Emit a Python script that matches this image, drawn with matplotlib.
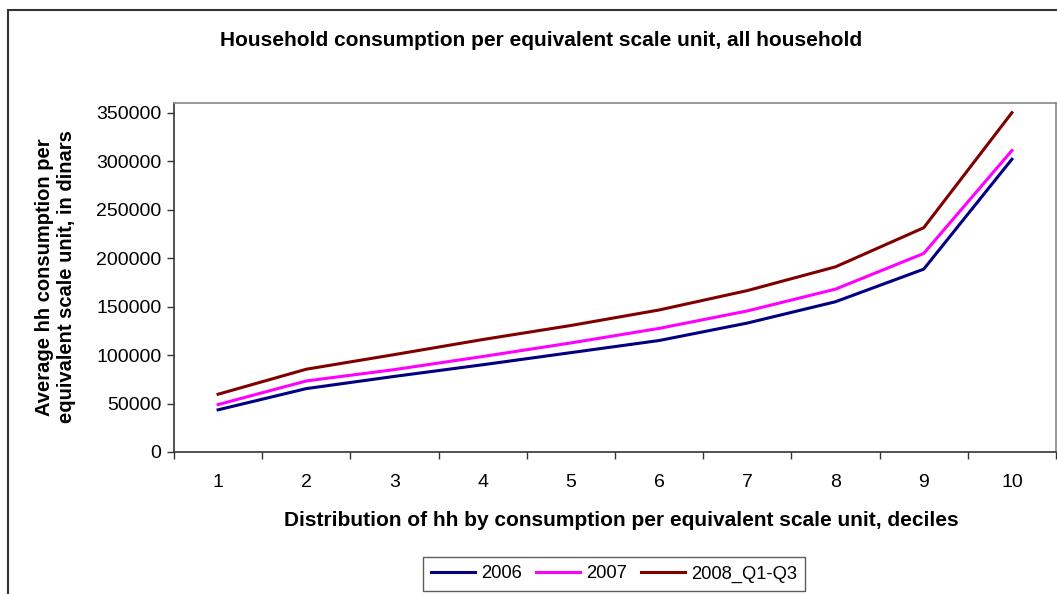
import numpy as np
import matplotlib
matplotlib.use("Agg")
import matplotlib.pyplot as plt
from matplotlib.patches import Rectangle


# values (dinars)
deciles = [1, 2, 3, 4, 5, 6, 7, 8, 9, 10]
cons_2006 = [43500, 65400, 78000, 90000, 102500, 115000, 133000, 155000, 188600, 302000]
cons_2007 = [48900, 73300, 85000, 98500, 112500, 127500, 145500, 168000, 204800, 311000]
cons_2008 = [59600, 85400, 100500, 116000, 130500, 146500, 166500, 191000, 231300, 350000]
series_names = ["2006", "2007", "2008_Q1-Q3"]
y_ticks = [0, 50000, 100000, 150000, 200000, 250000, 300000, 350000]

plt.rcParams['font.family'] = ['Liberation Sans', 'DejaVu Sans']

fig = plt.figure(figsize=(10.57, 5.94), dpi=100)
ax = fig.add_axes([174 / 1057, 1 - 452 / 594, 882 / 1057, 349 / 594])

# outer chart frame (right and bottom edges fall outside the picture)
fig.patches.append(Rectangle((8 / 1057, -0.2), 1.2, 1 - 10 / 594 + 0.2,
                             transform=fig.transFigure, fill=False,
                             edgecolor='#333333', linewidth=1.5))

colors = ['#000080', '#FF00FF', '#800000']
for vals, name, c in zip([cons_2006, cons_2007, cons_2008], series_names, colors):
    ax.plot(deciles, vals, color=c, linewidth=2.2, label=name)

ax.set_xlim(0.5, 10.5)
ax.set_ylim(0, 360000)
ax.set_yticks(y_ticks)
ax.set_yticklabels([str(v) for v in y_ticks], fontsize=14)
ax.set_xticks(deciles)
ax.set_xticklabels([str(d) for d in deciles], fontsize=14)
ax.set_xticks(np.arange(0.5, 11, 1), minor=True)
ax.tick_params(axis='x', which='major', length=0, pad=16)
ax.tick_params(axis='x', which='minor', length=5, width=1, color='#333333')
ax.tick_params(axis='y', length=5, width=1, color='#333333', pad=4)

for s in ['top', 'right']:
    ax.spines[s].set_color('#888888')
    ax.spines[s].set_linewidth(1.2)
for s in ['left', 'bottom']:
    ax.spines[s].set_color('#333333')
    ax.spines[s].set_linewidth(1.2)

fig.text(541 / 1057, 1 - 40 / 594, "Household consumption per equivalent scale unit, all household",
         ha='center', va='center', fontsize=15, fontweight='bold')
fig.text(56 / 1057, 1 - 277 / 594, "Average hh consumption per\nequivalent scale unit, in dinars",
         ha='center', va='center', rotation=90, fontsize=14.5, fontweight='bold',
         linespacing=1.2)
fig.text(621 / 1057, 1 - 520 / 594, "Distribution of hh by consumption per equivalent scale unit, deciles",
         ha='center', va='center', fontsize=15, fontweight='bold')

leg = fig.legend(loc='center', bbox_to_anchor=(614 / 1057, 1 - 574 / 594), ncol=3,
                 fontsize=13.2, frameon=True, fancybox=False, handlelength=2.4,
                 handletextpad=0.3, columnspacing=0.8, borderpad=0.45)
leg.get_frame().set_edgecolor('#333333')
leg.get_frame().set_linewidth(1.0)

fig.savefig("out.png", dpi=100)
